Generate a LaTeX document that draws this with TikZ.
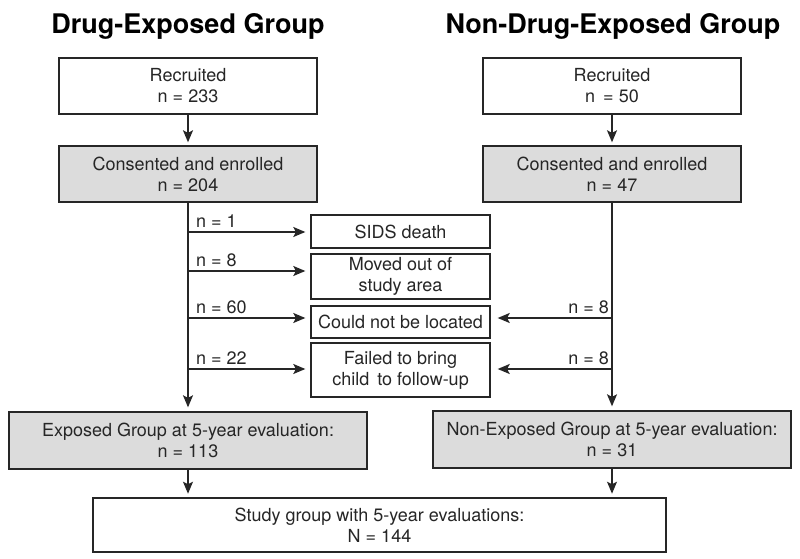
\documentclass[tikz,border=0pt]{standalone}
\usepackage{fontspec}
\setmainfont{TeX Gyre Heros}
\usetikzlibrary{arrows.meta}
\definecolor{boxgray}{HTML}{DCDCDC}
\definecolor{ink}{HTML}{262626}
\begin{document}
\begin{tikzpicture}[x=1pt,y=-1pt,
  box/.style={draw=ink,line width=1.4pt,inner sep=0pt,align=center,text=ink,
    font=\fontsize{18}{21}\selectfont},
  shaded/.style={box,fill=boxgray},
  title/.style={font=\fontsize{27}{30}\selectfont\bfseries,text=black,inner sep=0pt},
  lab/.style={font=\fontsize{18}{21}\selectfont,text=ink,inner sep=0pt},
  conn/.style={draw=ink,line width=1.3pt,-{Stealth[length=12pt,width=10pt,inset=2.5pt]}},
  plain/.style={draw=ink,line width=1.3pt}]
\useasboundingbox[fill=white] (0,0) rectangle (800,559);
% titles
\node[title] (tl) at (188,26) {Drug-Exposed Group};
\node[title] (tr) at (613,26) {Non-Drug-Exposed Group};
% left column
\node[box,minimum width=258pt,minimum height=56pt] (lr) at (188,86) {Recruited\\n = 233};
\node[shaded,minimum width=258pt,minimum height=56pt] (lc) at (188,174) {Consented and enrolled\\n = 204};
% right column
\node[box,minimum width=258pt,minimum height=56pt] (rr) at (612,86) {Recruited\\n \,= 50};
\node[shaded,minimum width=258pt,minimum height=56pt] (rc) at (612,174) {Consented and enrolled\\n = 47};
% middle boxes
\node[box,minimum width=179pt,minimum height=33pt] (sids) at (400.5,231.5) {SIDS death};
\node[box,minimum width=179pt,minimum height=45pt] (moved) at (400.5,276.5) {Moved out of\\study area};
\node[box,minimum width=179pt,minimum height=32pt] (could) at (400.5,322) {Could not be located};
\node[box,minimum width=179pt,minimum height=54pt] (failed) at (400.5,370) {Failed to bring\\child\, to follow-up};
% five-year boxes
\node[shaded,minimum width=358pt,minimum height=57pt] (le) at (188,440.5) {Exposed Group at 5-year evaluation:\\n = 113};
\node[shaded,minimum width=358pt,minimum height=57pt] (re) at (612,439.5) {Non-Exposed Group at 5-year evaluation:\\n = 31};
\node[box,line width=2.6pt,minimum width=573pt,minimum height=54pt] (st) at (379.5,525) {Study group with 5-year evaluations:\\N = 144};
% vertical connectors
\draw[conn,shorten >=3pt] (lr) -- (lc);
\draw[conn,shorten >=3pt] (rr) -- (rc);
\draw[conn,shorten >=4pt] (lc) -- (le);
\draw[conn,shorten >=4pt] (rc) -- (re);
\draw[conn,shorten >=3pt] (le.south) -- (le.south |- st.north);
\draw[conn,shorten >=3pt] (re.south) -- (re.south |- st.north);
% left branches
\coordinate (b1) at (lc.south |- 0,232);
\coordinate (b2) at (lc.south |- 0,271);
\coordinate (b3) at (lc.south |- 0,318);
\coordinate (b4) at (lc.south |- 0,369);
\draw[conn,shorten >=5pt] (b1) -- (b1 -| sids.west);
\draw[conn,shorten >=5pt] (b2) -- (b2 -| moved.west);
\draw[conn,shorten >=5pt] (b3) -- (b3 -| could.west);
\draw[conn,shorten >=5pt] (b4) -- (b4 -| failed.west);
\node[lab,anchor=base west] (l1) at (196,227) {n = 1};
\node[lab,anchor=base west] (l2) at (196,266) {n = 8};
\node[lab,anchor=base west] (l3) at (196,313) {n = 60};
\node[lab,anchor=base west] (l4) at (196,364) {n = 22};
% right branches
\coordinate (c3) at (rc.south |- 0,318);
\coordinate (c4) at (rc.south |- 0,369);
\draw[conn,shorten >=7pt] (c3) -- (c3 -| could.east);
\draw[conn,shorten >=7pt] (c4) -- (c4 -| failed.east);
\node[lab,anchor=base east] (r3) at (609,313) {n = 8};
\node[lab,anchor=base east] (r4) at (609,364) {n = 8};
\end{tikzpicture}
\end{document}
